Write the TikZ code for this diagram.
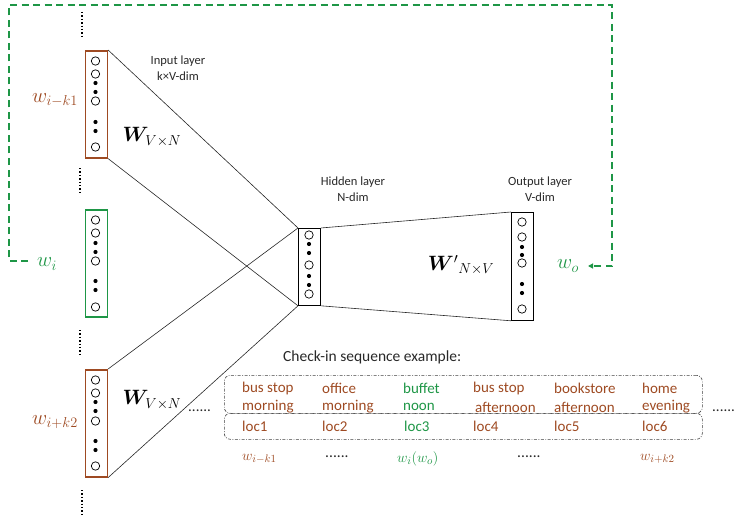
\documentclass[tikz,border=0pt]{standalone}
\usepackage{amsmath,bm}
\usepackage{fontspec}
\setmainfont{Carlito}
\usetikzlibrary{arrows.meta}
\definecolor{brn}{RGB}{158,74,34}
\definecolor{grn}{RGB}{30,150,70}
\definecolor{txt}{RGB}{40,40,40}
\newcommand\circs[3]{%
  \foreach \d in {#2} \draw[line width=0.7pt] (#1,\d) circle (4.2pt);
  \foreach \d in {#3} \fill (#1,\d) circle (2.1pt);}
\begin{document}
\begin{tikzpicture}[x=1pt,y=-1pt,
  lab/.style={font=\fontsize{12.5}{16}\selectfont, align=center, text=txt, inner sep=0},
  seq/.style={font=\fontsize{15}{18}\selectfont, anchor=west, inner sep=0},
  wl/.style={font=\fontsize{20}{24}\selectfont, inner sep=0},
  ws/.style={font=\fontsize{15.5}{18}\selectfont, anchor=west, inner sep=0},
  inbox/.style={draw=brn, line width=1.6pt, minimum width=22pt, minimum height=107pt, inner sep=0, anchor=north west},
  lbox/.style={draw, line width=0.8pt, minimum width=22pt, inner sep=0, anchor=north west},
  conn/.style={line width=0.6pt, black!85},
  vdots/.style={line width=1.6pt, dash pattern=on 1.4pt off 2pt},
  loop/.style={grn, line width=1.1pt, dash pattern=on 7pt off 4.5pt},
  seqbox/.style={draw=black!75, line width=0.6pt, rounded corners=6pt, dash pattern=on 3pt off 1.5pt on 0.8pt off 1.5pt, inner sep=0, anchor=north west, minimum width=478pt}
]
\useasboundingbox (0,0) rectangle (740,519);

% input boxes
\node[inbox] (in1) at (84.5,50) {};
\node[inbox, draw=grn] (in2) at (84.5,209) {};
\node[inbox] (in3) at (84.5,369) {};
\circs{95.5}{61,74,101,147}{83,92,122,131}
\circs{95.5}{220,233,261,307}{243,252,281,290}
\circs{95.5}{380,393,421,466}{402,411,441,450}

% vertical dots
\draw[vdots] (82,12) -- (82,36);
\draw[vdots] (80,168) -- (80,192);
\draw[vdots] (80,330) -- (80,354);
\draw[vdots] (82,490) -- (82,514);

% hidden and output
\node[lbox, minimum height=77pt] (hid) at (298,228) {};
\circs{309}{235,265,294}{244,253,276,285}
\node[lbox, minimum height=108pt] (out) at (511,212) {};
\circs{522}{222,237,263,309}{247,255,284,293}

% connectors
\draw[conn] (in1.north east) -- (hid.north west);
\draw[conn] (in1.south east) -- (hid.south west);
\draw[conn] (in3.north east) -- (hid.north west);
\draw[conn] (in3.south east) -- (hid.south west);
\draw[conn] (hid.north east) -- (out.north west);
\draw[conn] (hid.south east) -- (out.south west);

% labels
\node[lab] (linput) at (178,68) {Input layer\\k×V-dim};
\node[lab] (lhid) at (353,189) {Hidden layer\\N-dim};
\node[lab] (lout) at (540,189) {Output layer\\V-dim};
\node[wl, text=brn] (wa) at (55,100) {$w_{i-k1}$};
\node[wl, text=grn] (wi) at (47,264) {$w_{i}$};
\node[wl, text=brn] (wb) at (55,422) {$w_{i+k2}$};
\node[wl] (W1) at (152,137) {$\bm{W}_{V\times N}$};
\node[wl] (W2) at (152,400) {$\bm{W}_{V\times N}$};
\node[wl] (W3) at (461,265) {${\bm{W}'}{}_{N\times V}$};
\node[wl, text=grn] (wo) at (568,266) {$w_{o}$};

% green loop
\coordinate (la) at (28,261);
\coordinate (ra) at (588,266);
\draw[loop, -{Triangle[length=5pt,width=5pt]}] (la) -- (9,261) -- (9,5) -- (612,5) -- (612,266) -- (ra);

% check-in sequence
\node[font=\fontsize{15.5}{18}\selectfont, anchor=west, inner sep=0, text=txt] (title) at (283,357) {Check-in sequence example:};
\node[seqbox, minimum height=38pt] (ub) at (224,375) {};
\node[seqbox, minimum height=26pt] (lb) at (224,413) {};
\node[font=\fontsize{15}{18}\selectfont, inner sep=0, anchor=west, text=txt] (dl) at (188,411) {......};
\node[font=\fontsize{15}{18}\selectfont, inner sep=0, anchor=west, text=txt] (dr) at (712,411) {......};

\node[seq, text=brn] (a1) at (242,388) {bus stop};
\node[seq, text=brn] (a2) at (242,407) {morning};
\node[seq, text=brn] (a3) at (242,426) {loc1};
\node[seq, text=brn] (b1) at (322,388) {office};
\node[seq, text=brn] (b2) at (322,407) {morning};
\node[seq, text=brn] (b3) at (322,426) {loc2};
\node[seq, text=grn] (c1) at (403,388) {buffet};
\node[seq, text=grn] (c2) at (403,407) {noon};
\node[seq, text=grn] (c3) at (404,426) {loc3};
\node[seq, text=brn] (d1) at (473,388) {bus stop};
\node[seq, text=brn] (d2) at (475,407) {afternoon};
\node[seq, text=brn] (d3) at (473,426) {loc4};
\node[seq, text=brn] (e1) at (554,388) {bookstore};
\node[seq, text=brn] (e2) at (554,407) {afternoon};
\node[seq, text=brn] (e3) at (554,426) {loc5};
\node[seq, text=brn] (f1) at (642,388) {home};
\node[seq, text=brn] (f2) at (642,407) {evening};
\node[seq, text=brn] (f3) at (642,426) {loc6};

\node[ws, text=brn] (s1) at (242,459) {$w_{i-k1}$};
\node[ws, text=txt] (s2) at (325,457) {......};
\node[ws, text=grn] (s3) at (397,459) {$w_{i}(w_{o})$};
\node[ws, text=txt] (s4) at (517,457) {......};
\node[ws, text=brn] (s5) at (640,459) {$w_{i+k2}$};
\end{tikzpicture}
\end{document}
